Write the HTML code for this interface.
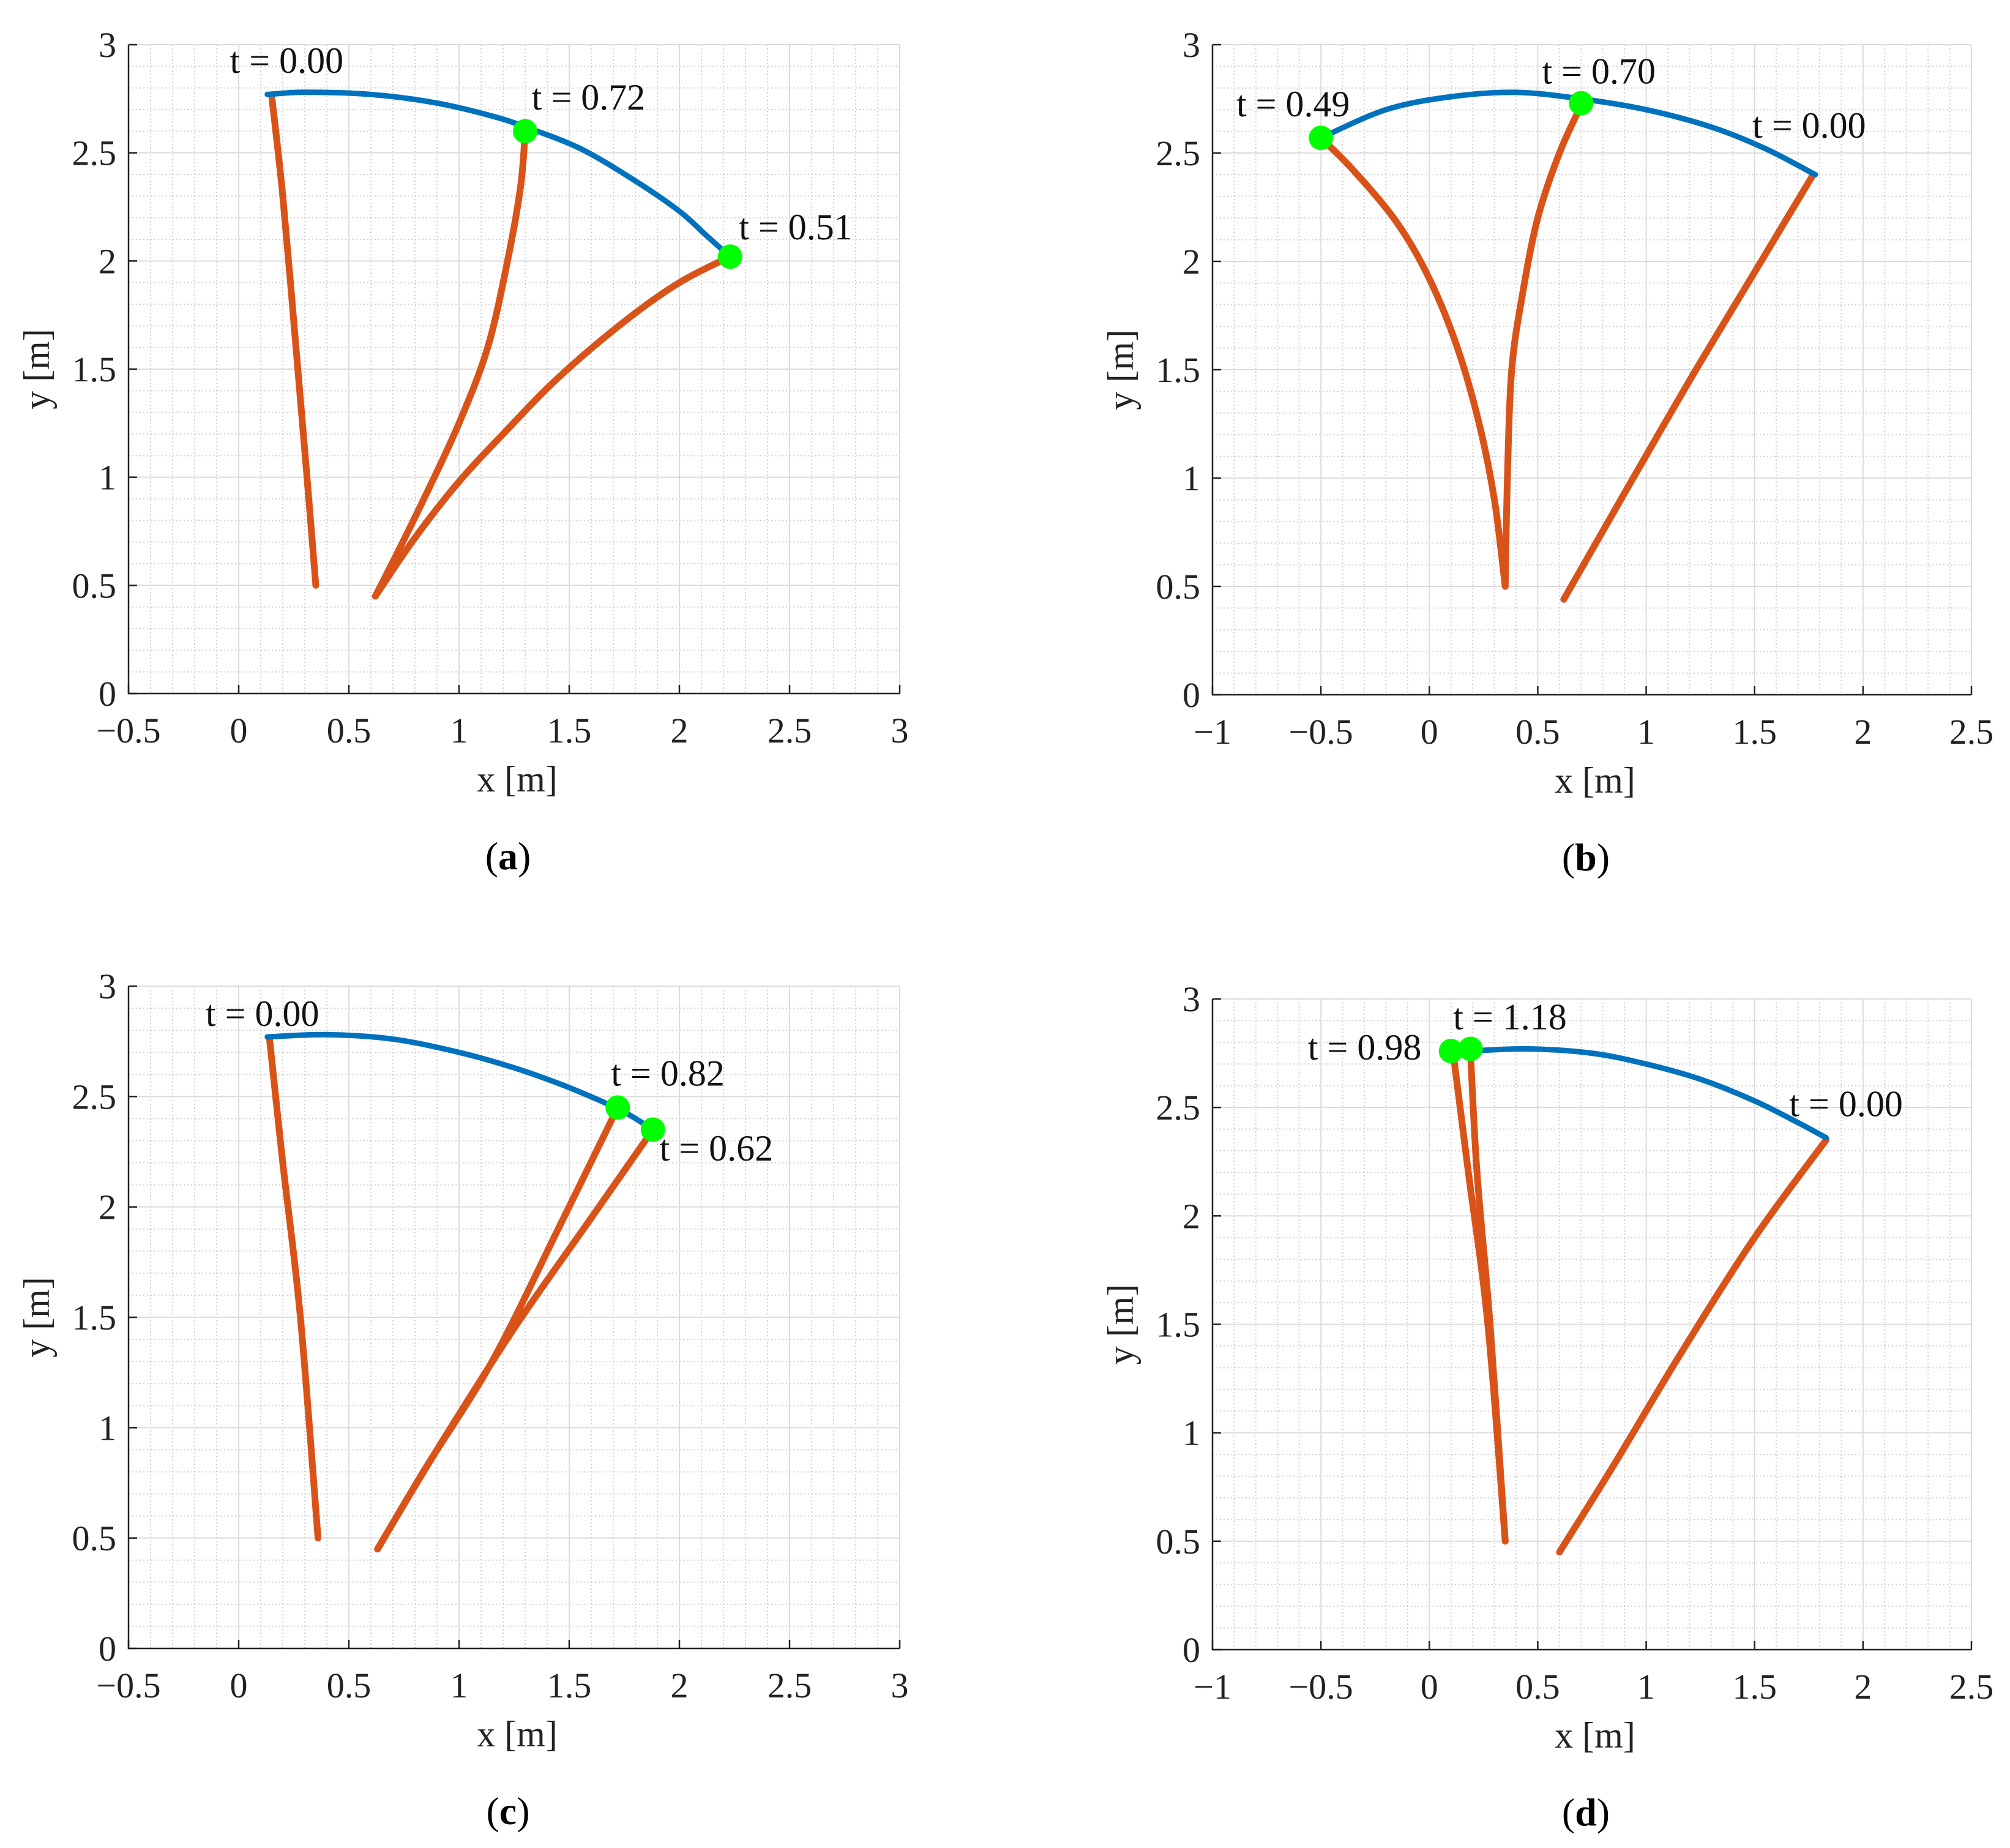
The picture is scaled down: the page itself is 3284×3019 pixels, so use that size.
<!DOCTYPE html>
<html><head><meta charset="utf-8"><style>
html,body{margin:0;padding:0;background:#fff;}
svg{display:block;font-family:"Liberation Serif",serif;}
</style></head><body>
<svg id="fig" width="3284" height="3019" viewBox="0 0 3284 3019" xmlns="http://www.w3.org/2000/svg"></svg>
<script>
const NS="http://www.w3.org/2000/svg";
// ---- data ----
const panelNames=["a","b","c","d"];
const xRanges=[[-0.5,3],[-1,2.5],[-0.5,3],[-1,2.5]];
const yRange=[0,3];
const xTicksA=[-0.5,0,0.5,1,1.5,2,2.5,3];
const xTicksB=[-1,-0.5,0,0.5,1,1.5,2,2.5];
const yTicks=[0,0.5,1,1.5,2,2.5,3];
// blue end-effector paths
const blueA=[[0.13,2.77],[0.3,2.78],[0.6,2.77],[0.9,2.73],[1.15,2.67],[1.3,2.62],[1.55,2.52],[1.8,2.37],[2.0,2.23],[2.12,2.12],[2.23,2.02]];
const blueB=[[1.78,2.40],[1.55,2.52],[1.3,2.62],[1.0,2.70],[0.7,2.75],[0.4,2.78],[0.1,2.76],[-0.2,2.70],[-0.5,2.57]];
const blueC=[[0.13,2.77],[0.4,2.78],[0.7,2.76],[1.0,2.70],[1.25,2.63],[1.45,2.56],[1.62,2.49],[1.75,2.43],[1.88,2.35]];
const blueD=[[0.19,2.76],[0.45,2.77],[0.75,2.75],[1.0,2.70],[1.25,2.63],[1.5,2.53],[1.7,2.43],[1.83,2.36]];
// red link paths
const redA=[[[0.15,2.76],[0.2,2.3],[0.26,1.6],[0.31,1.0],[0.35,0.5]],
 [[1.3,2.6],[1.28,2.35],[1.22,2.0],[1.13,1.6],[1.0,1.25],[0.85,0.92],[0.72,0.65],[0.62,0.45]],
 [[2.23,2.02],[2.0,1.9],[1.75,1.72],[1.45,1.46],[1.2,1.2],[1.0,0.98],[0.8,0.72],[0.62,0.45]]];
const redB=[[[1.77,2.40],[1.5,1.95],[1.2,1.45],[0.9,0.93],[0.62,0.44]],
 [[0.7,2.72],[0.6,2.5],[0.5,2.2],[0.43,1.85],[0.38,1.5],[0.36,1.0],[0.35,0.5]],
 [[-0.5,2.57],[-0.35,2.42],[-0.15,2.18],[0.0,1.92],[0.13,1.6],[0.23,1.25],[0.3,0.9],[0.35,0.5]]];
const redC=[[[0.14,2.76],[0.2,2.2],[0.28,1.5],[0.36,0.5]],
 [[1.72,2.45],[1.45,1.9],[1.15,1.3],[0.85,0.82],[0.63,0.45]],
 [[1.88,2.35],[1.6,1.95],[1.25,1.45],[0.9,0.9],[0.63,0.45]]];
const redD=[[[0.11,2.75],[0.18,2.2],[0.27,1.5],[0.35,0.5]],
 [[0.19,2.75],[0.22,2.2],[0.28,1.5],[0.35,0.5]],
 [[1.83,2.35],[1.5,1.9],[1.15,1.35],[0.85,0.85],[0.6,0.45]]];
const markersA=[[1.3,2.6],[2.23,2.02]];
const markersB=[[-0.5,2.57],[0.7,2.73]];
const markersC=[[1.72,2.45],[1.88,2.35]];
const markersD=[[0.1,2.76],[0.19,2.77]];
const labelTextA=["t = 0.00","t = 0.72","t = 0.51"];
const labelPosA=[[-0.04,2.87],[1.33,2.70],[2.27,2.10]];
const labelTextB=["t = 0.49","t = 0.70","t = 0.00"];
const labelPosB=[[-0.89,2.67],[0.52,2.82],[1.49,2.57]];
const labelTextC=["t = 0.00","t = 0.82","t = 0.62"];
const labelPosC=[[-0.15,2.82],[1.69,2.55],[1.91,2.21]];
const labelTextD=["t = 0.98","t = 1.18","t = 0.00"];
const labelPosD=[[-0.56,2.72],[0.11,2.86],[1.66,2.46]];

const boxes=[[210,1470,73,1133],[1981,3221,73,1135],[210,1470,1611,2693],[1981,3221,1632,2695]];
const blues=[blueA,blueB,blueC,blueD];
const reds=[redA,redB,redC,redD];
const marks=[markersA,markersB,markersC,markersD];
const lTexts=[labelTextA,labelTextB,labelTextC,labelTextD];
const lPos=[labelPosA,labelPosB,labelPosC,labelPosD];
const xTickSets=[xTicksA,xTicksB,xTicksA,xTicksB];

const svg=document.getElementById('fig');
function el(tag,attrs,parent){const e=document.createElementNS(NS,tag);for(const k in attrs)e.setAttribute(k,attrs[k]);(parent||svg).appendChild(e);return e;}
function fmt(v){return v<0?"\u2212"+(-v):String(v);}
function smooth(P){
  let d=`M${P[0][0].toFixed(1)},${P[0][1].toFixed(1)}`;
  for(let i=0;i<P.length-1;i++){
    const p0=P[Math.max(0,i-1)],p1=P[i],p2=P[i+1],p3=P[Math.min(P.length-1,i+2)];
    const c1=[p1[0]+(p2[0]-p0[0])/6,p1[1]+(p2[1]-p0[1])/6];
    const c2=[p2[0]-(p3[0]-p1[0])/6,p2[1]-(p3[1]-p1[1])/6];
    d+=`C${c1[0].toFixed(1)},${c1[1].toFixed(1)} ${c2[0].toFixed(1)},${c2[1].toFixed(1)} ${p2[0].toFixed(1)},${p2[1].toFixed(1)}`;
  }
  return d;
}

for(let p=0;p<4;p++){
  const [L,R,T,B]=boxes[p];const [x0,x1]=xRanges[p];
  const sx=v=>L+(v-x0)/(x1-x0)*(R-L);
  const sy=v=>B-(v-yRange[0])/(yRange[1]-yRange[0])*(B-T);
  const g=el('g',{});
  
  
  for(let v=Math.ceil(x0*10);v<=x1*10;v++){ if(v%5===0)continue;const X=sx(v/10);
    el('line',{x1:X,x2:X,y1:T,y2:B,stroke:'#d0d0d0','stroke-width':2,'stroke-dasharray':'2 4'},g);}
  for(let v=1;v<30;v++){ if(v%5===0)continue;const Y=sy(v/10);
    el('line',{x1:L,x2:R,y1:Y,y2:Y,stroke:'#d0d0d0','stroke-width':2,'stroke-dasharray':'2 4'},g);}
  xTickSets[p].forEach(v=>{const X=sx(v);el('line',{x1:X,x2:X,y1:T,y2:B,stroke:'#dcdcdc','stroke-width':2},g);});
  yTicks.forEach(v=>{const Y=sy(v);el('line',{x1:L,x2:R,y1:Y,y2:Y,stroke:'#dcdcdc','stroke-width':2},g);});
  const ax=el('path',{d:`M${L},${T}V${B}H${R}`,fill:'none',stroke:'#222','stroke-width':2.5},g);
  
  
  xTickSets[p].forEach(v=>{const X=sx(v);
    el('line',{x1:X,x2:X,y1:B,y2:B-14,stroke:'#222','stroke-width':2.5},g);
    const t=el('text',{x:X,y:B+80,'font-size':58,'text-anchor':'middle',fill:'#222'},g);t.textContent=fmt(v);
    
    });
  yTicks.forEach(v=>{const Y=sy(v);
    el('line',{x1:L,x2:L+14,y1:Y,y2:Y,stroke:'#222','stroke-width':2.5},g);
    const t=el('text',{x:L-20,y:Y+20,'font-size':58,'text-anchor':'end',fill:'#222'},g);t.textContent=fmt(v);
    
    });
  const xl=el('text',{x:(L+R)/2+5,y:B+160,'font-size':60,'text-anchor':'middle',fill:'#222'},g);xl.textContent='x [m]';
  
  
  const yl=el('text',{x:0,y:0,'font-size':60,'text-anchor':'middle',fill:'#222',transform:`translate(${L-130},${(T+B)/2}) rotate(-90)`},g);yl.textContent='y [m]';
  
  
  const cap=el('text',{x:(L+R)/2-10,y:B+287,'font-size':64,'text-anchor':'middle',fill:'#000'},g);
  cap.innerHTML='(<tspan font-weight="bold">'+panelNames[p]+'</tspan>)';
  
  
  const pix=a=>a.map(q=>[sx(q[0]),sy(q[1])]);
  reds[p].forEach(r=>{const l=el('path',{d:smooth(pix(r)),fill:'none',stroke:'#D95319','stroke-width':11,'stroke-linecap':'round','stroke-linejoin':'round'},g);
    
    });
  const b=el('path',{d:smooth(pix(blues[p])),fill:'none',stroke:'#0072BD','stroke-width':9,'stroke-linecap':'round','stroke-linejoin':'round'},g);
  
  
  marks[p].forEach(m=>{const c=el('circle',{cx:sx(m[0]),cy:sy(m[1]),r:20,fill:'#00ff00'},g);
    
    });
  lTexts[p].forEach((s,i)=>{const t=el('text',{x:sx(lPos[p][i][0]),y:sy(lPos[p][i][1]),'font-size':60,fill:'#111'},g);t.textContent=s;
    
    });
}
</script>
</body></html>
